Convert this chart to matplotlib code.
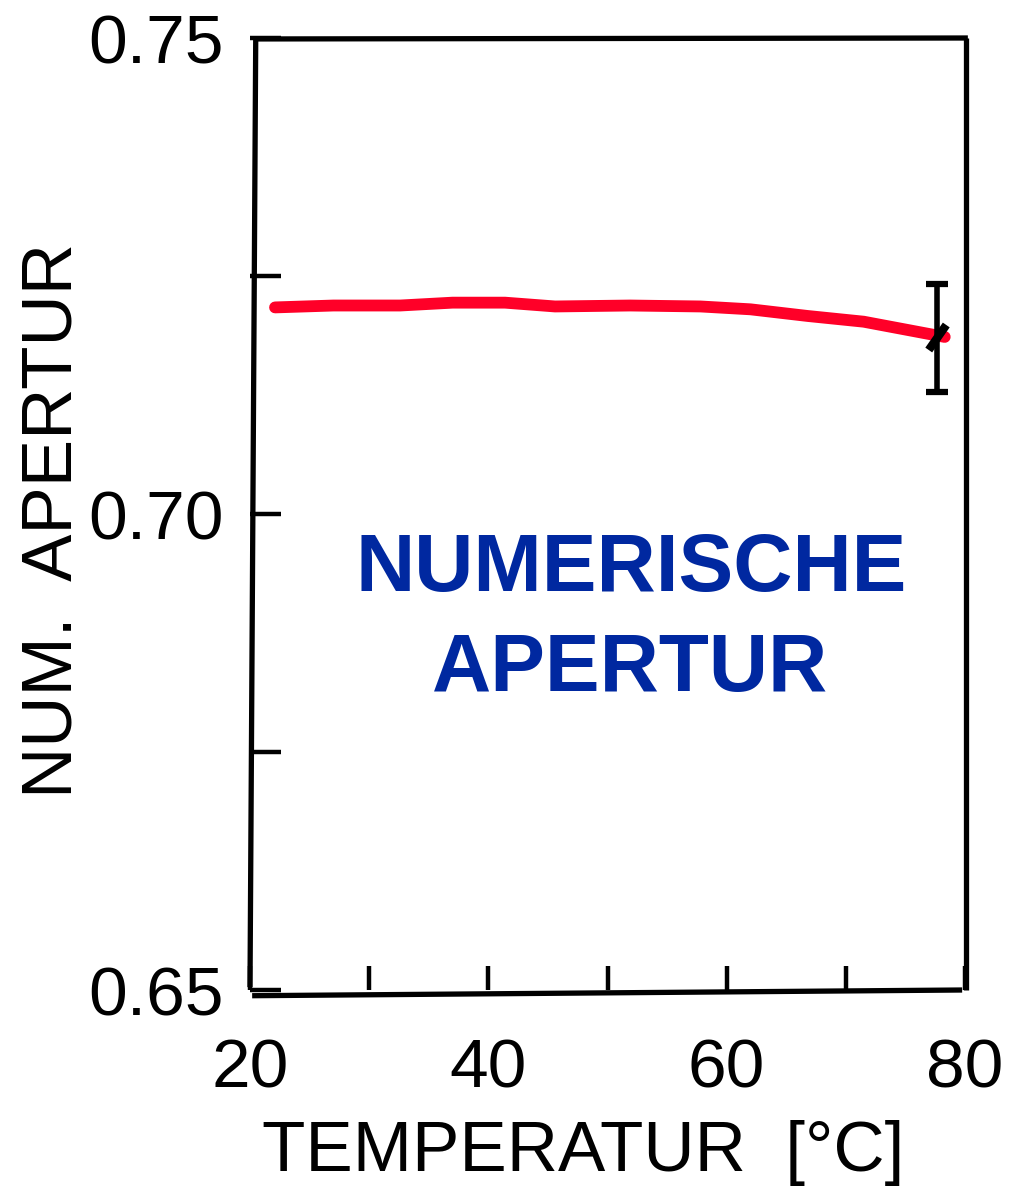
import numpy as np
import matplotlib
matplotlib.use("Agg")
import matplotlib.pyplot as plt
from matplotlib.ticker import FixedLocator

plt.rcParams['font.family'] = ['Liberation Sans', 'DejaVu Sans']

# Messkurve: numerische Apertur über der Temperatur
temperatur = [22.1, 27.0, 32.6, 37.0, 41.4, 45.6, 51.9, 57.8, 62.0, 66.8, 71.5, 78.3]
apertur = [0.7217, 0.7219, 0.7219, 0.7222, 0.7222, 0.7218, 0.7219, 0.7218, 0.7215, 0.7208, 0.7202, 0.7186]

# Fehlerbalken am letzten Messpunkt
fehler_x = [77.65]
fehler_y = [0.7186]
fehler_oben = [0.0056]
fehler_unten = [0.0058]

x_major = [20, 40, 60, 80]
x_minor = [30, 50, 70]
y_major = [0.65, 0.70, 0.75]
y_minor = [0.675, 0.725]

W, H = 1009, 1191
fig = plt.figure(figsize=(W / 100, H / 100), dpi=100)
ax = fig.add_axes([250 / W, 1 - 990 / H, 715 / W, 952 / H])

ax.set_xlim(20, 80)
ax.set_ylim(0.65, 0.75)

ax.plot(temperatur, apertur, color='#ff0028', lw=8.5, solid_capstyle='round',
        solid_joinstyle='round', zorder=3)
ax.errorbar(fehler_x, fehler_y, yerr=[fehler_unten, fehler_oben], fmt='none',
            ecolor='black', elinewidth=4, capsize=8, capthick=4.5, zorder=4)
ax.plot(fehler_x, fehler_y, marker=(2, 0, -35), ms=22, mew=6, color='black',
        ls='none', zorder=5)

# leicht schiefer, handgezeichneter Rahmen
for spine in ax.spines.values():
    spine.set_visible(False)
rahmen = [
    ((0.008, 0.998), (0.0, 0.003)),
    ((0.011, 0.999), (1.004, 1.0)),
    ((1.0014, 1.0), (1.0014, 0.0)),
    ((0.003, -0.006), (0.996, 0.0)),
]
for (x0, y0), (x1, y1) in rahmen:
    ax.plot([x0, x1], [y0, y1], color='black', lw=3.8, transform=ax.transAxes,
            clip_on=False, solid_capstyle='butt', zorder=6)

ax.xaxis.set_major_locator(FixedLocator(x_major))
ax.xaxis.set_minor_locator(FixedLocator(x_minor))
ax.yaxis.set_major_locator(FixedLocator(y_major))
ax.yaxis.set_minor_locator(FixedLocator(y_minor))
ax.set_xticklabels([str(v) for v in x_major])
ax.set_yticklabels([f"{v:.2f}" for v in y_major])

ax.tick_params(axis='x', which='both', direction='in', length=17, width=3.2,
               labelsize=50, pad=34)
ax.tick_params(axis='y', which='both', direction='in', length=22, width=3.2,
               labelsize=50, pad=19)

ax.set_xlabel('TEMPERATUR  [°C]', fontsize=51, va='center')
ax.xaxis.set_label_coords((583 - 250) / 715, (990 - 1153) / 952)
ax.set_ylabel('NUM.  APERTUR', fontsize=51, va='center')
ax.yaxis.set_label_coords((54 - 250) / 715, (990 - 520) / 952)

blau = '#0028a0'
ax.text(0.533, (990 - 570) / 952, 'NUMERISCHE', transform=ax.transAxes,
        ha='center', va='center', fontsize=59, fontweight='bold', color=blau)
ax.text(0.532, (990 - 670) / 952, 'APERTUR', transform=ax.transAxes,
        ha='center', va='center', fontsize=59, fontweight='bold', color=blau)

fig.savefig('out.png', dpi=100)
